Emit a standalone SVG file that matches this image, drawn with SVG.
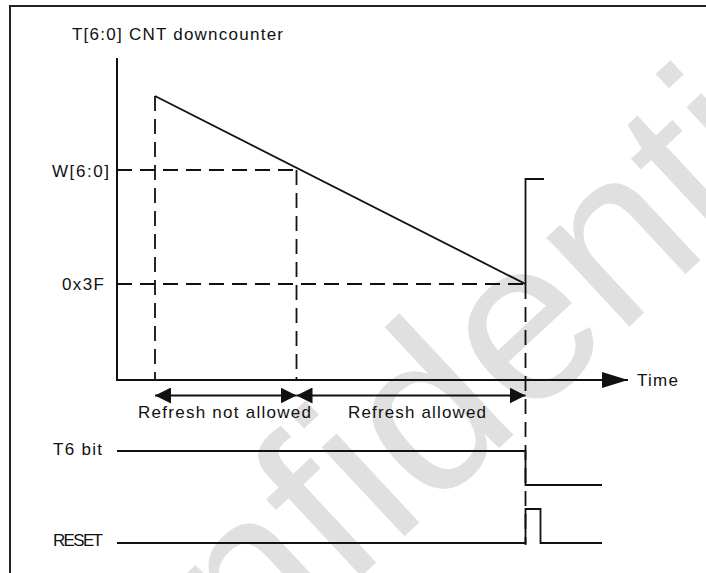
<svg xmlns="http://www.w3.org/2000/svg" width="706" height="573" viewBox="0 0 706 573">
<style>
  .lbl { font-family: "Liberation Sans", Arial, sans-serif; font-size: 17px; fill: #111; }
  .wm { font-family: "Liberation Sans", Arial, sans-serif; font-size: 230px; fill: #e0e0e0; }
  .solid { fill: none; stroke: #111; stroke-width: 1.8; }
  .axis { fill: none; stroke: #111; stroke-width: 2; }
  .dash { fill: none; stroke: #111; stroke-width: 1.8; stroke-dasharray: 15 8; }
  .head { fill: #111; stroke: none; }
</style>
<defs>
  <marker id="arr" viewBox="0 0 16 16" refX="16" refY="8" markerWidth="16" markerHeight="16" markerUnits="userSpaceOnUse" orient="auto-start-reverse">
    <path d="M0,0 L16,8 L0,16 Z" class="head"/>
  </marker>
  <marker id="axarr" viewBox="0 0 26 16" refX="26" refY="8" markerWidth="26" markerHeight="16" markerUnits="userSpaceOnUse" orient="auto">
    <path d="M0,0 L26,8 L0,16 Z" class="head"/>
  </marker>
</defs>
<rect width="706" height="573" fill="#ffffff"/>
<g id="watermark">
  <text class="wm" transform="translate(38,878) rotate(-43)">Confidential</text>
</g>
<g id="frame">
  <path d="M10,573 V6 H706" fill="none" stroke="#222" stroke-width="2"/>
</g>
<g id="labels">
  <text id="title" class="lbl" x="72" y="39.5" textLength="211" lengthAdjust="spacing">T[6:0] CNT downcounter</text>
  <text id="w-label" class="lbl" x="52" y="176.5" textLength="57" lengthAdjust="spacing">W[6:0]</text>
  <text id="ox3f-label" class="lbl" x="62" y="290" textLength="42" lengthAdjust="spacing">0x3F</text>
  <text id="time-label" class="lbl" x="637" y="385.5" textLength="41" lengthAdjust="spacing">Time</text>
  <text id="not-allowed" class="lbl" x="138" y="418" textLength="173" lengthAdjust="spacing">Refresh not allowed</text>
  <text id="allowed" class="lbl" x="348" y="418" textLength="138" lengthAdjust="spacing">Refresh allowed</text>
  <text id="t6-label" class="lbl" x="53" y="454.5" textLength="49" lengthAdjust="spacing">T6 bit</text>
  <text id="reset-label" class="lbl" x="53" y="545.5" textLength="50" lengthAdjust="spacing">RESET</text>
</g>
<g id="connectors">
  <path id="y-axis" class="axis" d="M117,58 V380"/>
  <path id="x-axis" class="axis" d="M116,380 H628" marker-end="url(#axarr)"/>
  <path class="dash" d="M155,96 V380"/>
  <path class="dash" d="M117,170 H296.5"/>
  <path class="dash" d="M296.5,170 V380"/>
  <path class="dash" d="M117,284 H525.5"/>
  <path class="dash" d="M525.5,284 V545"/>
  <path id="ramp" class="solid" d="M155,96 L525.5,284"/>
  <path id="reload" class="solid" d="M525.5,284 V179 H544"/>
  <path id="arrow-not-allowed" class="solid" d="M155,395.5 H296.5" marker-start="url(#arr)" marker-end="url(#arr)"/>
  <path id="arrow-allowed" class="solid" d="M296.5,395.5 H525.5" marker-start="url(#arr)" marker-end="url(#arr)"/>
  <path id="t6-signal" class="solid" d="M117,451 H525.5 V485 H602"/>
  <path id="reset-signal" class="solid" d="M117,543 H525.5 V509 H540.5 V543 H602"/>
</g>
</svg>
